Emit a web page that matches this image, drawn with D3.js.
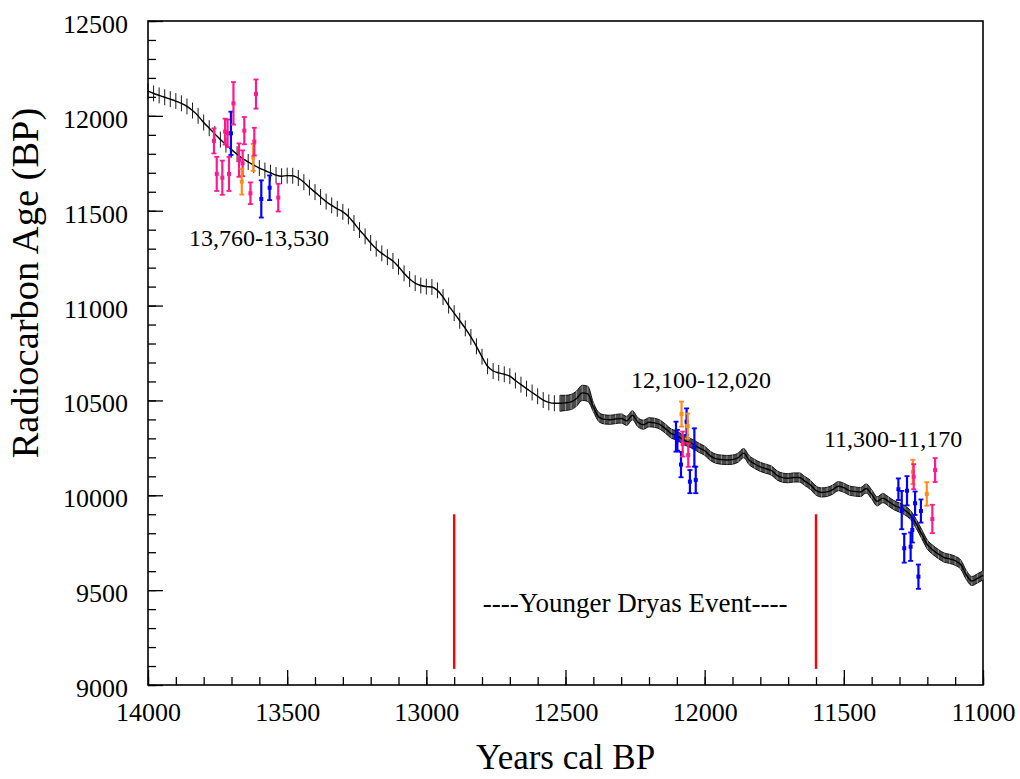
<!DOCTYPE html>
<html>
<head>
<meta charset="utf-8">
<script src="https://cdn.jsdelivr.net/npm/d3@7"></script>
<style>
  body { margin: 0; background: #fff; }
  svg text { font-family: "Liberation Serif", "Times New Roman", serif; fill: #000; }
</style>
</head>
<body>
<div id="chart"></div>
<script>
// calibration curve (cal BP -> 14C age)
const calYears = [
  14000, 13980, 13960, 13940, 13920, 13900, 13880, 13860, 13840, 13820,
  13800, 13780, 13760, 13740, 13720, 13700, 13680, 13660, 13640, 13620,
  13600, 13580, 13560, 13540, 13520, 13500, 13480, 13460, 13440, 13420,
  13400, 13380, 13360, 13340, 13320, 13300, 13280, 13260, 13240, 13220,
  13200, 13180, 13160, 13140, 13120, 13100, 13080, 13060, 13040, 13020,
  13000, 12980, 12960, 12940, 12920, 12900, 12880, 12860, 12840, 12820,
  12800, 12780, 12760, 12740, 12720, 12700, 12680, 12660, 12640, 12620,
  12600, 12580, 12560, 12540, 12520, 12500, 12480, 12460, 12440, 12420,
  12400, 12380, 12360, 12340, 12320, 12300, 12280, 12260, 12240, 12220,
  12200, 12180, 12160, 12140, 12120, 12100, 12080, 12060, 12040, 12020,
  12000, 11980, 11960, 11940, 11920, 11900, 11880, 11860, 11840, 11820,
  11800, 11780, 11760, 11740, 11720, 11700, 11680, 11660, 11640, 11620,
  11600, 11580, 11560, 11540, 11520, 11500, 11480, 11460, 11440, 11420,
  11400, 11380, 11360, 11340, 11320, 11300, 11280, 11260, 11240, 11220,
  11200, 11180, 11160, 11140, 11120, 11100, 11080, 11060, 11040, 11020,
  11000
];
const calAge = [
  12130, 12118, 12108, 12098, 12088, 12078, 12066, 12050, 12028, 12000,
  11965, 11935, 11905, 11875, 11848, 11822, 11798, 11775, 11757, 11740,
  11725, 11712, 11700, 11688, 11682, 11685, 11684, 11672, 11650, 11622,
  11598, 11572, 11548, 11528, 11510, 11494, 11470, 11435, 11398, 11365,
  11330, 11300, 11275, 11255, 11235, 11205, 11170, 11140, 11118, 11106,
  11100, 11098, 11080, 11045, 11000, 10960, 10920, 10880, 10835, 10785,
  10730, 10680, 10655, 10645, 10638, 10628, 10605, 10583, 10562, 10542,
  10522, 10502, 10490, 10485, 10485, 10487, 10492, 10510, 10540, 10535,
  10465, 10412, 10400, 10398, 10402, 10405, 10392, 10422, 10385, 10372,
  10385, 10382, 10372, 10350, 10325, 10315, 10295, 10281, 10268, 10250,
  10235, 10208, 10193, 10188, 10186, 10188, 10198, 10222, 10185, 10165,
  10150, 10140, 10130, 10105, 10093, 10090, 10094, 10094, 10075, 10055,
  10025, 10015, 10018, 10030, 10048, 10040, 10025, 10020, 10017, 10036,
  10005, 9968, 9985, 9968, 9948, 9935, 9920, 9895, 9850, 9795,
  9740, 9712, 9690, 9672, 9665, 9655, 9635, 9580, 9548, 9562,
  9578
];
// 1-sigma of the curve by stretch of years
const calSigmaFrom = [14000, 12500, 12400];
const calSigmaValue = [42, 40, 24];

// measured samples
const sampleYear = [
  13763, 13753, 13733, 13723, 13714, 13709, 13702, 13693, 13673, 13660,
  13663, 13654, 13632, 13622, 13618, 13612, 13593, 13563, 13532,
  12103, 12098, 12085, 12083, 12079, 12065, 12061, 12059, 12053, 12037, 12032,
  11304, 11292, 11283, 11273, 11260, 11254, 11244, 11223, 11232, 11252,
  11249, 11202, 11172, 11182
];
const sampleAge = [
  11868, 11694, 11674, 11917, 11908, 11694, 11908, 12066, 11767, 11750,
  11653, 11922, 11592, 11781, 11864, 12115, 11562, 11621, 11569,
  10309, 10290, 10162, 10428, 10270, 10388, 10365, 10212, 10072, 10252, 10081,
  10032, 9922, 9721, 10024, 9729, 9817, 9958, 9917, 9571, 10123,
  10098, 10007, 10133, 9875
];
const sampleErr = [
  66, 90, 90, 68, 73, 90, 114, 112, 88, 68,
  68, 72, 57, 71, 73, 77, 98, 65, 73,
  79, 55, 67, 66, 66, 70, 66, 62, 61, 101, 70,
  57, 101, 76, 77, 75, 66, 62, 61, 64, 64,
  66, 62, 63, 75
];
const sampleSet = [
  'A', 'A', 'A', 'A', 'A', 'A', 'B', 'A', 'A', 'A',
  'C', 'A', 'A', 'C', 'A', 'A', 'B', 'B', 'A',
  'B', 'B', 'B', 'C', 'A', 'B', 'C', 'A', 'B', 'B', 'B',
  'B', 'B', 'B', 'B', 'B', 'B', 'B', 'B', 'B', 'C',
  'A', 'C', 'A', 'A'
];

const xTicks = [14000, 13500, 13000, 12500, 12000, 11500, 11000];
const yTicks = [9000, 9500, 10000, 10500, 11000, 11500, 12000, 12500];

const eventYears = [12900, 11600];
const eventRange = [9085, 9900];

const clusterLabels = ['13,760-13,530', '12,100-12,020', '11,300-11,170'];
const clusterLabelYear = [13601, 12013, 11323];
const clusterLabelAge = [11312, 10563, 10252];

const serif = '"Liberation Serif", "Times New Roman", Times, serif';

const margin = { top: 21, right: 37, bottom: 94, left: 148 };
const width = 1020 - margin.left - margin.right;
const height = 779 - margin.top - margin.bottom;

const svg = d3.select('#chart')
  .append('svg')
  .attr('width', 1020)
  .attr('height', 779)
  .append('g')
  .attr('transform', `translate(${margin.left},${margin.top})`);

const x = d3.scaleLinear().domain([14000, 11000]).range([0, width]);
const y = d3.scaleLinear().domain([9000, 12500]).range([height, 0]);

const color = d3.scaleOrdinal()
  .domain(['A', 'B', 'C'])
  .range(['#ff1a8c', '#0000ff', '#ff8c1a']);

// axes: minor ticks first, then labelled majors
svg.append('g')
  .attr('transform', `translate(0,${height})`)
  .call(d3.axisBottom(x).tickValues(x.ticks(30)).tickSize(-8).tickFormat(''))
  .call(g => g.select('.domain').remove());

svg.append('g')
  .attr('transform', `translate(0,${height})`)
  .call(d3.axisBottom(x).tickValues(xTicks).tickSize(-15).tickPadding(18).tickFormat(d3.format('d')))
  .call(g => g.select('.domain').remove())
  .selectAll('text')
  .style('font-family', serif)
  .style('font-size', '26px');

svg.append('g')
  .call(d3.axisLeft(y).tickValues(y.ticks(35)).tickSize(-8).tickFormat(''))
  .call(g => g.select('.domain').remove());

svg.append('g')
  .call(d3.axisLeft(y).tickValues(yTicks).tickSize(-15).tickPadding(20).tickFormat(d3.format('d')))
  .call(g => g.select('.domain').remove())
  .selectAll('text')
  .attr('dy', '0.44em')
  .style('font-family', serif)
  .style('font-size', '26px');

svg.selectAll('.tick line').attr('stroke', '#000').attr('stroke-width', 1.3);

// frame
svg.append('rect')
  .attr('width', width)
  .attr('height', height)
  .attr('fill', 'none')
  .attr('stroke', '#000')
  .attr('stroke-width', 1.6);

// calibration curve
const sigmaAt = yr => {
  let s = calSigmaValue[0];
  calSigmaFrom.forEach((f, i) => { if (yr <= f) s = calSigmaValue[i]; });
  return s;
};
const calData = calYears.map((yr, i) => ({ year: yr, age: calAge[i], sigma: sigmaAt(yr) }));
const denseData = calData.filter(d => d.year <= 12520);

svg.append('path')
  .datum(denseData)
  .attr('fill', '#4a4a4a')
  .attr('stroke', '#000')
  .attr('stroke-width', 0.9)
  .attr('d', d3.area()
    .curve(d3.curveMonotoneX)
    .x(d => x(d.year))
    .y0(d => y(d.age - d.sigma))
    .y1(d => y(d.age + d.sigma)));

svg.append('g')
  .selectAll('line')
  .data(calData)
  .join('line')
  .attr('x1', d => x(d.year))
  .attr('x2', d => x(d.year))
  .attr('y1', d => y(d.age - d.sigma))
  .attr('y2', d => y(d.age + d.sigma))
  .attr('stroke', d => d.year <= 12520 ? '#999' : '#000')
  .attr('stroke-width', 0.9);

svg.append('path')
  .datum(calData)
  .attr('fill', 'none')
  .attr('stroke', '#000')
  .attr('stroke-width', 1.4)
  .attr('d', d3.line()
    .curve(d3.curveMonotoneX)
    .x(d => x(d.year))
    .y(d => y(d.age)));

// samples with error bars
const samples = sampleYear.map((yr, i) => ({
  year: yr, age: sampleAge[i], err: sampleErr[i], set: sampleSet[i]
}));

const sg = svg.append('g')
  .selectAll('g')
  .data(samples)
  .join('g')
  .attr('stroke', d => color(d.set))
  .attr('fill', d => color(d.set));

sg.append('line')
  .attr('x1', d => x(d.year))
  .attr('x2', d => x(d.year))
  .attr('y1', d => y(d.age - d.err))
  .attr('y2', d => y(d.age + d.err))
  .attr('stroke-width', 2.2);

sg.append('line')
  .attr('x1', d => x(d.year) - 2.5)
  .attr('x2', d => x(d.year) + 2.5)
  .attr('y1', d => y(d.age - d.err))
  .attr('y2', d => y(d.age - d.err))
  .attr('stroke-width', 1.8);

sg.append('line')
  .attr('x1', d => x(d.year) - 2.5)
  .attr('x2', d => x(d.year) + 2.5)
  .attr('y1', d => y(d.age + d.err))
  .attr('y2', d => y(d.age + d.err))
  .attr('stroke-width', 1.8);

sg.append('rect')
  .attr('x', d => x(d.year) - 2)
  .attr('y', d => y(d.age) - 2)
  .attr('width', 4)
  .attr('height', 4)
  .attr('stroke', 'none');

// Younger Dryas bounds
svg.append('g')
  .selectAll('line')
  .data(eventYears)
  .join('line')
  .attr('x1', d => x(d))
  .attr('x2', d => x(d))
  .attr('y1', y(eventRange[1]))
  .attr('y2', y(eventRange[0]))
  .attr('stroke', '#f00')
  .attr('stroke-width', 2.4);

svg.append('text')
  .attr('x', x(d3.mean(eventYears)))
  .attr('y', y(9385))
  .attr('text-anchor', 'middle')
  .style('font-family', serif)
  .style('font-size', '27px')
  .text('----Younger Dryas Event----');

// cluster labels
svg.append('g')
  .selectAll('text')
  .data(clusterLabels)
  .join('text')
  .attr('x', (d, i) => x(clusterLabelYear[i]))
  .attr('y', (d, i) => y(clusterLabelAge[i]))
  .attr('text-anchor', 'middle')
  .style('font-family', serif)
  .style('font-size', '24px')
  .text(d => d);

// axis titles
svg.append('text')
  .attr('x', width / 2)
  .attr('y', height + 84)
  .attr('text-anchor', 'middle')
  .style('font-family', serif)
  .style('font-size', '35px')
  .text('Years cal BP');

svg.append('text')
  .attr('transform', 'rotate(-90)')
  .attr('x', -(283 - margin.top))
  .attr('y', 38 - margin.left)
  .attr('text-anchor', 'middle')
  .style('font-family', serif)
  .style('font-size', '38.5px')
  .text('Radiocarbon Age (BP)');
</script>
</body>
</html>
